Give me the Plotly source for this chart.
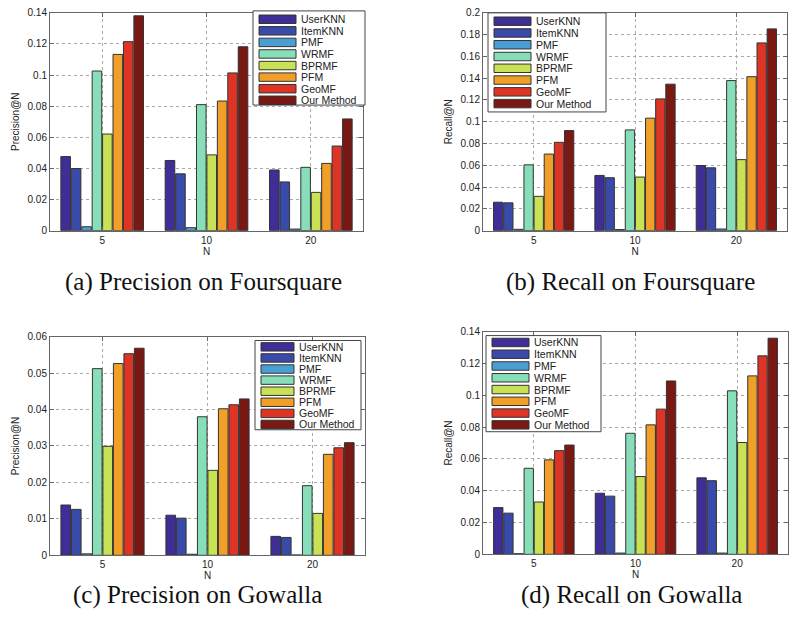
import plotly.graph_objects as go

W, H = 791, 629

categories = ["5", "10", "20"]
methods = ["UserKNN", "ItemKNN", "PMF", "WRMF", "BPRMF", "PFM", "GeoMF", "Our Method"]
colors = ["#3e2e96", "#394aa8", "#4b9ed4", "#87deb9", "#c8e155", "#f0a028", "#de3426", "#7a1814"]

# values per method, for N = 5, 10, 20
precision_foursquare = [
    [0.0476, 0.0451, 0.0390],
    [0.0399, 0.0365, 0.0313],
    [0.0025, 0.0019, 0.0010],
    [0.1026, 0.0810, 0.0407],
    [0.0621, 0.0487, 0.0246],
    [0.1133, 0.0833, 0.0432],
    [0.1215, 0.1014, 0.0544],
    [0.1381, 0.1182, 0.0718],
]
recall_foursquare = [
    [0.0261, 0.0507, 0.0598],
    [0.0255, 0.0486, 0.0577],
    [0.0012, 0.0010, 0.0015],
    [0.0604, 0.0925, 0.1378],
    [0.0315, 0.0492, 0.0652],
    [0.0703, 0.1033, 0.1414],
    [0.0811, 0.1210, 0.1724],
    [0.0919, 0.1345, 0.1853],
]
precision_gowalla = [
    [0.0138, 0.0110, 0.0052],
    [0.0126, 0.0102, 0.0049],
    [0.0004, 0.0003, 0.0001],
    [0.0512, 0.0380, 0.0191],
    [0.0299, 0.0233, 0.0115],
    [0.0526, 0.0402, 0.0277],
    [0.0553, 0.0413, 0.0295],
    [0.0568, 0.0429, 0.0309],
]
recall_gowalla = [
    [0.0294, 0.0384, 0.0481],
    [0.0259, 0.0366, 0.0463],
    [0.0004, 0.0008, 0.0008],
    [0.0541, 0.0761, 0.1028],
    [0.0329, 0.0489, 0.0703],
    [0.0594, 0.0814, 0.1122],
    [0.0652, 0.0913, 0.1248],
    [0.0687, 0.1090, 0.1359],
]

captions = ["(a) Precision on Foursquare", "(b) Recall on Foursquare",
            "(c) Precision on Gowalla", "(d) Recall on Gowalla"]
ytitles = ["Precision@N", "Recall@N", "Precision@N", "Recall@N"]
yranges = [0.14, 0.2, 0.06, 0.14]
ydticks = [0.02, 0.02, 0.01, 0.02]
panels = [precision_foursquare, recall_foursquare, precision_gowalla, recall_gowalla]


def px(x):
    return x / W


def py(y):
    return 1 - y / H


# plot areas in pixels: left, top, right, bottom
areas = [(50, 7, 363, 229), (483, 7, 787, 229), (50, 337, 365, 560), (483, 332, 788, 559)]
# legends: left, top, right, bottom, first row y, pitch, swatch width
legends = [
    (253, 5, 365, 101, 13.5, 11.8, 37),
    (488, 7, 606, 108, 15.5, 12.0, 37),
    (255, 341, 361, 432, 347.5, 11.3, 33),
    (486, 336, 601, 434, 343.0, 12.0, 37),
]
caption_pos = [(203, 281), (630, 281), (197, 600), (631, 600)]

fig = go.Figure()
shapes = []
annotations = []
axis_font = dict(family="Liberation Sans, Arial, sans-serif", size=10, color="#222")

for k, data in enumerate(panels):
    sfx = "" if k == 0 else str(k + 1)
    for i, m in enumerate(methods):
        fig.add_trace(go.Bar(
            x=categories, y=data[i], name=m,
            marker=dict(color=colors[i], line=dict(color="#333333", width=1)),
            xaxis="x" + sfx, yaxis="y" + sfx, showlegend=False,
        ))
    l, t, r, b = areas[k]
    fig.layout["xaxis" + sfx] = dict(
        domain=[px(l), px(r)], anchor="y" + sfx, type="category",
        showline=True, mirror="ticks", linecolor="#666", linewidth=1,
        ticks="inside", ticklen=4, tickcolor="#666",
        showgrid=True, gridcolor="#aaa", griddash="dot", gridwidth=1,
        tickfont=axis_font, title=dict(text="N", font=axis_font, standoff=0),
        zeroline=False,
    )
    fig.layout["yaxis" + sfx] = dict(
        domain=[py(b), py(t)], anchor="x" + sfx, range=[0, yranges[k]], dtick=ydticks[k],
        showline=True, mirror="ticks", linecolor="#666", linewidth=1,
        ticks="inside", ticklen=4, tickcolor="#666",
        showgrid=True, gridcolor="#aaa", griddash="dot", gridwidth=1,
        tickfont=axis_font, title=dict(text=ytitles[k], font=axis_font, standoff=6),
        zeroline=False,
    )
    # legend box
    L, T, R, B, r0, pitch, sw = legends[k]
    shapes.append(dict(type="rect", xref="paper", yref="paper",
                       x0=px(L), x1=px(R), y0=py(B), y1=py(T),
                       line=dict(color="#444", width=1), fillcolor="white", layer="above"))
    for i, m in enumerate(methods):
        yc = r0 + i * pitch
        shapes.append(dict(type="rect", xref="paper", yref="paper",
                           x0=px(L + 6), x1=px(L + 6 + sw), y0=py(yc + 4.3), y1=py(yc - 4.3),
                           line=dict(color="#333", width=1), fillcolor=colors[i], layer="above"))
        annotations.append(dict(text=m, xref="paper", yref="paper", x=px(L + 6 + sw + 3), y=py(yc),
                                xanchor="left", yanchor="middle", showarrow=False,
                                font=dict(family="Liberation Sans, Arial, sans-serif", size=10.5, color="#222")))
    cx, cy = caption_pos[k]
    annotations.append(dict(text=captions[k], xref="paper", yref="paper", x=px(cx), y=py(cy),
                            xanchor="center", yanchor="middle", showarrow=False,
                            font=dict(family="Liberation Serif, DejaVu Serif, serif", size=25, color="#111")))

fig.update_layout(
    width=W, height=H, margin=dict(l=0, r=0, t=0, b=0),
    paper_bgcolor="white", plot_bgcolor="white",
    barmode="group", bargap=0.2, bargroupgap=0.08,
    shapes=shapes, annotations=annotations, showlegend=False,
)

fig.write_html("out.html")
